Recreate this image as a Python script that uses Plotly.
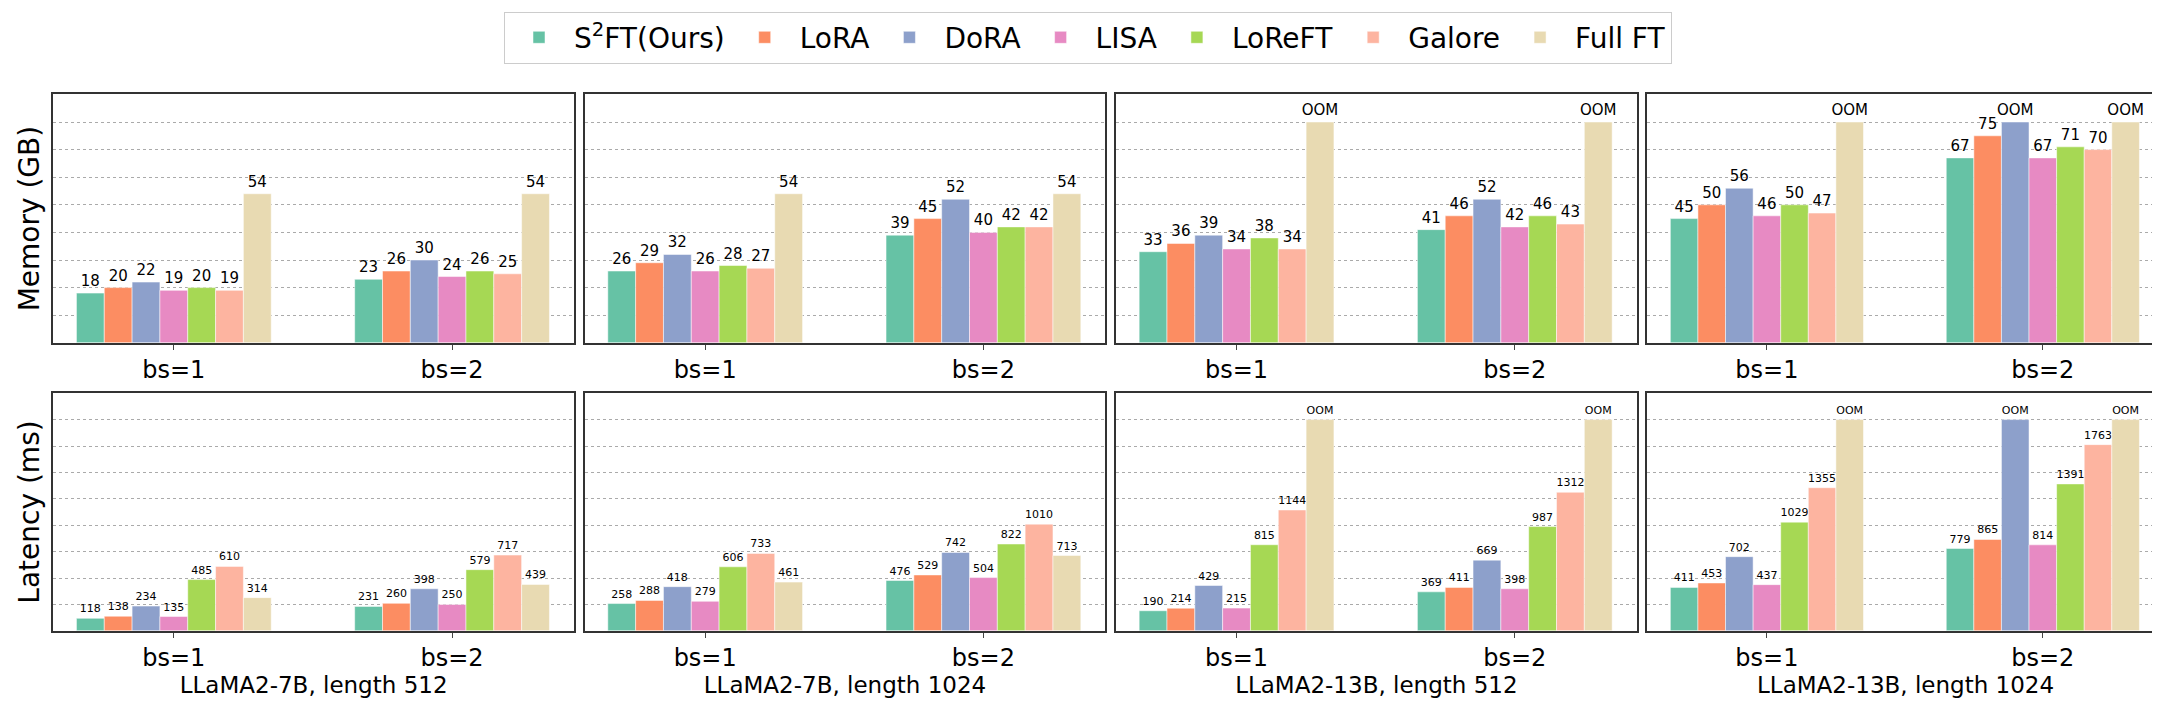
import plotly.graph_objects as go
from plotly.subplots import make_subplots

methods = ["S<sup>2</sup>FT(Ours)", "LoRA", "DoRA", "LISA", "LoReFT", "Galore", "Full FT"]
colors = ["#66c2a5", "#fc8d62", "#8da0cb", "#e78ac3", "#a6d854", "#fdb4a0", "#e8dab2"]
groups = ["bs=1", "bs=2"]
titles = ["LLaMA2-7B, length 512", "LLaMA2-7B, length 1024", "LLaMA2-13B, length 512", "LLaMA2-13B, length 1024"]
OOM = None
memory = [
    [[18, 23], [20, 26], [22, 30], [19, 24], [20, 26], [19, 25], [54, 54]],
    [[26, 39], [29, 45], [32, 52], [26, 40], [28, 42], [27, 42], [54, 54]],
    [[33, 41], [36, 46], [39, 52], [34, 42], [38, 46], [34, 43], [OOM, OOM]],
    [[45, 67], [50, 75], [56, OOM], [46, 67], [50, 71], [47, 70], [OOM, OOM]],
]
latency = [
    [[118, 231], [138, 260], [234, 398], [135, 250], [485, 579], [610, 717], [314, 439]],
    [[258, 476], [288, 529], [418, 742], [279, 504], [606, 822], [733, 1010], [461, 713]],
    [[190, 369], [214, 411], [429, 669], [215, 398], [815, 987], [1144, 1312], [OOM, OOM]],
    [[411, 779], [453, 865], [702, OOM], [437, 814], [1029, 1391], [1355, 1763], [OOM, OOM]],
]
mem_oom, lat_oom = 80, 2000
mem_range, lat_range = [0, 90], [0, 2250]

fig = make_subplots(rows=2, cols=4)
xd = [(0.021, 0.262), (0.267, 0.508), (0.513, 0.754), (0.759, 0.998)]
yd = [(0.535, 0.88), (0.135, 0.465)]

for r, (data, oomv, fs) in enumerate([(memory, mem_oom, 15), (latency, lat_oom, 11)]):
    for c in range(4):
        for m in range(7):
            vals = data[c][m]
            ys = [oomv if v is None else v for v in vals]
            txt = ["OOM" if v is None else str(v) for v in vals]
            fig.add_trace(go.Bar(x=[0, 1], y=ys, text=txt, textposition="outside",
                                 textfont=dict(size=fs, color="black"), constraintext="none",
                                 cliponaxis=False, marker=dict(color=colors[m], line=dict(width=0.5, color="white")),
                                 name=methods[m], showlegend=(r == 0 and c == 0), legendgroup=methods[m]),
                          row=r + 1, col=c + 1)

for r in range(2):
    for c in range(4):
        n = r * 4 + c + 1
        sx = "" if n == 1 else str(n)
        fig.layout["xaxis" + sx].update(domain=xd[c], range=[-0.433, 1.438], tickvals=[0, 1], ticktext=groups,
                                        tickfont=dict(size=24, color="black"), ticks="outside", ticklen=5,
                                        showline=True, mirror=True, linecolor="#333", linewidth=1.5,
                                        title=dict(text=titles[c], font=dict(size=23, color="black"), standoff=6) if r == 1 else None)
        fig.layout["yaxis" + sx].update(domain=yd[r], range=mem_range if r == 0 else lat_range,
                                        dtick=10 if r == 0 else 250, showticklabels=False,
                                        showgrid=True, gridcolor="#aaa", griddash="dot", gridwidth=1,
                                        showline=True, mirror=True, linecolor="#333", linewidth=1.5, zeroline=False,
                                        title=dict(text=("Memory (GB)" if r == 0 else "Latency (ms)"),
                                                   font=dict(size=28, color="black"), standoff=4) if c == 0 else None)

fig.update_layout(width=2160, height=720, barmode="group", bargap=0.3, bargroupgap=0,
                  plot_bgcolor="white", paper_bgcolor="white",
                  font=dict(family="DejaVu Sans", color="black"),
                  margin=dict(l=0, r=0, t=0, b=0),
                  legend=dict(orientation="h", x=0.5, xanchor="center", y=0.995, yanchor="top",
                              font=dict(size=28), bordercolor="#ccc", borderwidth=1,
                              itemwidth=60, tracegroupgap=0))
fig.write_html("out.html")
